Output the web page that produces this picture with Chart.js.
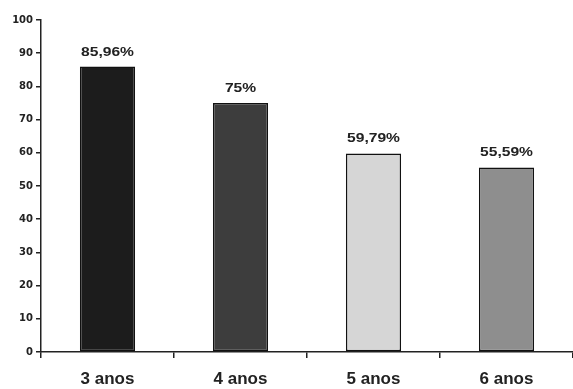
<!DOCTYPE html>
<html>
<head>
<meta charset="utf-8">
<script src="https://cdn.jsdelivr.net/npm/chart.js@4/dist/chart.umd.min.js"></script>
<style>
  html, body { margin: 0; padding: 0; background: #fff; }
  #wrap { width: 573px; height: 389px; }
</style>
</head>
<body>
<div id="wrap"><canvas id="c" width="573" height="389"></canvas></div>
<script>
// Age groups and the share (%) for each
const categories = ['3 anos', '4 anos', '5 anos', '6 anos'];
const values = [85.96, 75, 59.79, 55.59];
const barColors = ['#1c1c1c', '#3d3d3d', '#d6d6d6', '#8e8e8e'];
const yTicks = [0, 10, 20, 30, 40, 50, 60, 70, 80, 90, 100];

// Writes each value above its bar, with a decimal comma
const valueLabels = {
  id: 'valueLabels',
  afterDatasetsDraw(chart) {
    const ctx = chart.ctx;
    const meta = chart.getDatasetMeta(0);
    const stretch = 1.2;
    ctx.save();
    ctx.font = 'bold 13px "Liberation Sans", Arial, sans-serif';
    ctx.fillStyle = '#222';
    ctx.textAlign = 'center';
    ctx.textBaseline = 'alphabetic';
    meta.data.forEach((bar, i) => {
      const txt = String(values[i]).replace('.', ',') + '%';
      ctx.save();
      ctx.translate(bar.x, bar.y - 11);
      ctx.scale(stretch, 1);
      ctx.fillText(txt, 0, 0);
      ctx.restore();
    });
    ctx.restore();
  }
};

new Chart(document.getElementById('c'), {
  type: 'bar',
  data: {
    labels: categories,
    datasets: [{
      data: values,
      backgroundColor: barColors,
      borderColor: '#111',
      borderWidth: 1.5,
      borderSkipped: false,
      categoryPercentage: 1,
      barPercentage: 0.415
    }]
  },
  options: {
    responsive: false,
    animation: false,
    devicePixelRatio: 1,
    layout: { padding: { top: 20, right: 0, bottom: 0, left: 0 } },
    plugins: {
      legend: { display: false },
      tooltip: { enabled: false }
    },
    scales: {
      x: {
        offset: true,
        grid: {
          offset: true,
          drawOnChartArea: false,
          drawTicks: true,
          tickLength: 6,
          color: '#222',
          lineWidth: 1.5
        },
        border: { color: '#222', width: 1.5 },
        ticks: {
          color: '#222',
          padding: 11,
          font: { family: '"Liberation Sans", Arial, sans-serif', size: 17, weight: 'bold' }
        },
        afterFit(scale) { scale.height = 37; }
      },
      y: {
        min: 0,
        max: 100,
        afterBuildTicks(scale) { scale.ticks = yTicks.map(v => ({ value: v })); },
        grid: {
          drawOnChartArea: false,
          drawTicks: true,
          tickLength: 5,
          color: '#222',
          lineWidth: 1.5
        },
        border: { color: '#222', width: 1.5 },
        ticks: {
          color: '#222',
          padding: 3,
          font: { family: '"DejaVu Sans", sans-serif', size: 10, weight: 'bold' }
        },
        afterFit(scale) { scale.width = 41; }
      }
    }
  },
  plugins: [valueLabels]
});
</script>
</body>
</html>
